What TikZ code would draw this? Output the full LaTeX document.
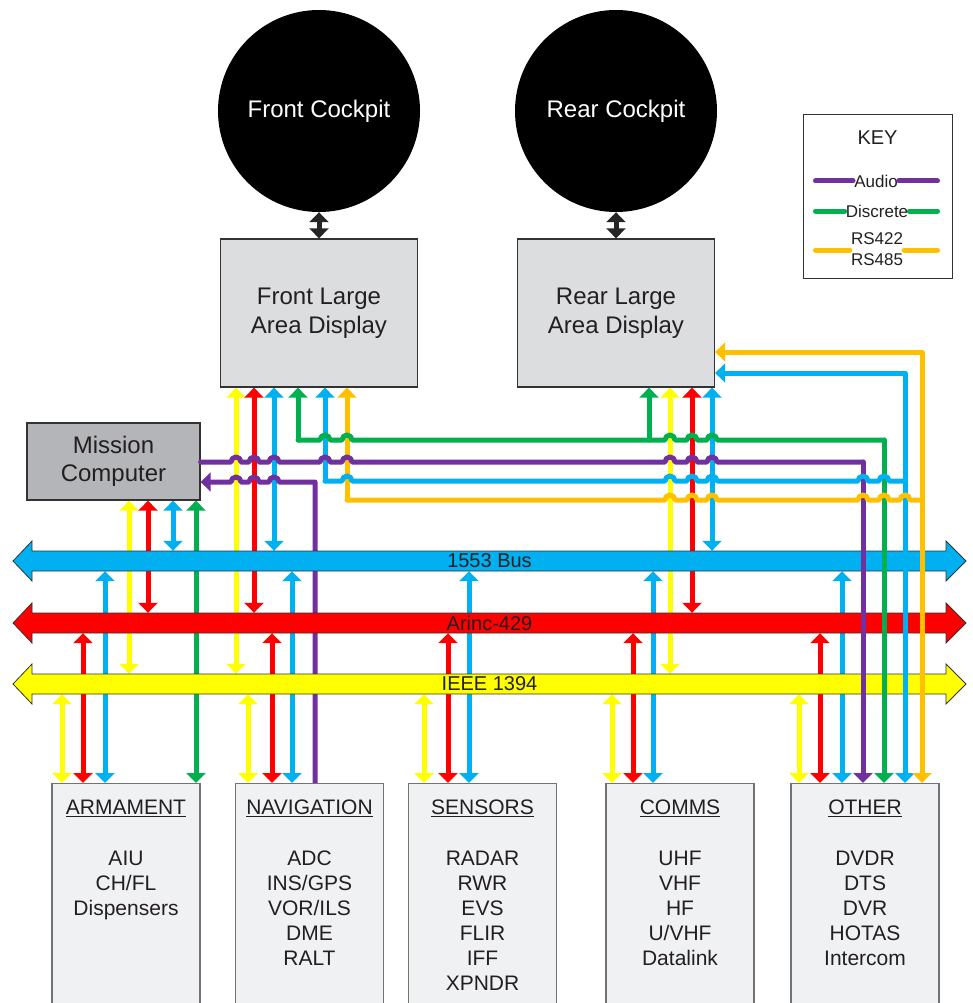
\documentclass[tikz,border=0pt]{standalone}
\usepackage{fontspec}
\setmainfont{Liberation Sans}
\usetikzlibrary{positioning, arrows.meta, calc}
\pgfdeclarelayer{under}
\pgfsetlayers{under,main}
\definecolor{busblue}{RGB}{0,176,240}
\definecolor{busred}{RGB}{255,0,0}
\definecolor{busyellow}{RGB}{255,255,0}
\definecolor{discretegreen}{RGB}{0,176,80}
\definecolor{audiopurple}{RGB}{112,48,160}
\definecolor{rsorange}{RGB}{255,192,0}
\definecolor{displaygrey}{RGB}{220,221,223}
\definecolor{mcgrey}{RGB}{180,181,184}
\definecolor{unitgrey}{RGB}{240,241,243}
\definecolor{inkgrey}{RGB}{35,31,32}

\begin{document}
\begin{tikzpicture}[x=1pt, y=1pt, text=inkgrey,
    >={Triangle[width=19pt, length=10pt]},
    wire/.style={line width=5pt},
    route/.style={line width=5pt, line cap=round, line join=round},
    cockpit/.style={circle, fill=black, minimum size=202pt, text=white, font=\fontsize{24}{29}\selectfont},
    screen/.style={draw=black!80, line width=1.3pt, fill=displaygrey, minimum width=197pt, minimum height=148pt, align=center, font=\fontsize{24}{29}\selectfont},
    unit/.style={draw=black!55, line width=1.3pt, fill=unitgrey, minimum width=148pt, minimum height=240pt, anchor=north},
    unittext/.style={align=center, anchor=north, inner sep=0pt, font=\fontsize{21}{25}\selectfont},
    busbody/.style={draw=black!80, line width=0.8pt},
    busname/.style={minimum width=914pt, minimum height=20pt, inner sep=0pt, font=\fontsize{20}{24}\selectfont},
    keyitem/.style={inner sep=1pt, align=center, font=\fontsize{17}{21}\selectfont},
    keyline/.style={line width=5pt, line cap=round}]

    \useasboundingbox (0,0) rectangle (973,-1003);

    % cockpits et ecrans
    \node[cockpit] (fcp) at (319,-111) {Front Cockpit};
    \node[cockpit] (rcp) at (616,-111) {Rear Cockpit};
    \node[screen] (flad) at (319,-313) {Front Large\\Area Display};
    \node[screen] (rlad) at (616,-313) {Rear Large\\Area Display};
    \draw[wire, black!85, <->] (fcp.south) -- (fcp.south |- flad.north);
    \draw[wire, black!85, <->] (rcp.south) -- (rcp.south |- rlad.north);

    \node[draw=black!80, line width=1.3pt, fill=mcgrey, minimum width=173pt, minimum height=77pt, align=center, font=\fontsize{24}{28}\selectfont] (mc) at (113.5,-461.5) {Mission\\Computer};

    % legende
    \node[draw=black!80, line width=1pt, minimum width=149pt, minimum height=163pt] (key) at (877.5,-196.5) {};
    \node[font=\fontsize{20}{24}\selectfont] (keyhead) at (877.5,-138) {KEY};
    \node[keyitem] (kaudio) at (876,-181) {Audio};
    \node[keyitem] (kdisc) at (877,-211) {Discrete};
    \node[keyitem] (krs) at (877,-249) {RS422\\RS485};
    \draw[keyline, audiopurple] ([xshift=13pt]key.west |- kaudio) -- (kaudio.west);
    \draw[keyline, audiopurple] (kaudio.east) -- ([xshift=-15pt]key.east |- kaudio);
    \draw[keyline, discretegreen] ([xshift=13pt]key.west |- kdisc) -- (kdisc.west);
    \draw[keyline, discretegreen] (kdisc.east) -- ([xshift=-15pt]key.east |- kdisc);
    \draw[keyline, rsorange] ([shift={(13pt,-1pt)}]key.west |- krs.west) -- ([yshift=-1pt]krs.west);
    \draw[keyline, rsorange] ([yshift=-1pt]krs.east) -- ([shift={(-15pt,-1pt)}]key.east |- krs.east);

    % bus
    \foreach \y/\c/\n/\t in {-561/busblue/b1553/1553 Bus, -623/busred/b429/Arinc-429, -684/busyellow/b1394/IEEE 1394} {
      \draw[busbody, fill=\c] (13,\y) -- ++(19,20) -- ++(0,-10) -- ++(914,0) -- ++(0,10) -- ++(20,-20)
        -- ++(-20,-20) -- ++(0,10) -- ++(-914,0) -- ++(0,-10) -- cycle;
      \node[busname] (\n) at (489.5,\y) {\t};
    }

    % sous-systemes
    \foreach \x/\n/\t/\items in {126/arm/ARMAMENT/{AIU\\CH/FL\\Dispensers},
        309.5/nav/NAVIGATION/{ADC\\INS/GPS\\VOR/ILS\\DME\\RALT},
        482.5/sen/SENSORS/{RADAR\\RWR\\EVS\\FLIR\\IFF\\XPNDR},
        680/com/COMMS/{UHF\\VHF\\HF\\U/VHF\\Datalink},
        865/oth/OTHER/{DVDR\\DTS\\DVR\\HOTAS\\Intercom}} {
      \node[unit] (\n) at (\x,-783) {};
      \node[unittext] (\n-t) at ([yshift=-17pt]\n.north) {\underline{\t}\\[26pt]\items};
    }

    % liaisons sous les bus
    \begin{pgfonlayer}{under}
      \foreach \x/\c/\a/\b in {236/busyellow/flad/b1394, 254/busred/flad/b429, 274/busblue/flad/b1553,
          670/busyellow/rlad/b1394, 692/busred/rlad/b429, 712/busblue/rlad/b1553,
          129/busyellow/mc/b1394, 148/busred/mc/b429, 173/busblue/mc/b1553}
        \draw[wire, \c, <->] (\x,0 |- \a.south) -- (\x,0 |- \b.north);
      \foreach \x/\c/\a/\b in {62/busyellow/b1394/arm, 83/busred/b429/arm, 105/busblue/b1553/arm,
          248/busyellow/b1394/nav, 272/busred/b429/nav, 292/busblue/b1553/nav,
          424/busyellow/b1394/sen, 448/busred/b429/sen, 469/busblue/b1553/sen,
          612/busyellow/b1394/com, 633/busred/b429/com, 653/busblue/b1553/com,
          799/busyellow/b1394/oth, 820/busred/b429/oth, 842/busblue/b1553/oth}
        \draw[wire, \c, <->] (\x,0 |- \a.south) -- (\x,0 |- \b.north);
      \draw[wire, discretegreen, <->] (196,0 |- mc.south) -- (196,0 |- arm.north);
      \draw[route, audiopurple, <-] (mc.east |- 0,-482)
        \foreach \h in {236,254,274} {-- (\h-5,-482) arc[start angle=180, end angle=0, radius=5pt]}
        -- (315,-482) -- (315,0 |- nav.north);
    \end{pgfonlayer}

    % liaisons vers OTHER
    \draw[route, discretegreen, <-] (298,0 |- flad.south) -- (298,-440);
    \draw[route, discretegreen, <-] (649,0 |- rlad.south) -- (649,-440);
    \draw[route, discretegreen, ->] (884,-440) -- (884,0 |- oth.north);
    \draw[route, busblue, <-] (325,0 |- flad.south) -- (325,-481);
    \draw[route, busblue, <->] (rlad.east |- 0,-373) -- (905,-373) -- (905,0 |- oth.north);
    \draw[route, rsorange, <-] (347,0 |- flad.south) -- (347,-500);
    \draw[route, rsorange, <->] (rlad.east |- 0,-352) -- (922,-352) -- (922,0 |- oth.north);
    \draw[route, audiopurple, ->] (863,-462) -- (863,0 |- oth.north);

    \draw[route, discretegreen] (298,-440)
      \foreach \h in {325,347,670,692,712} {-- (\h-5,-440) arc[start angle=180, end angle=0, radius=5pt]}
      -- (884,-440);
    \draw[route, audiopurple] (mc.east |- 0,-462)
      \foreach \h in {236,254,274,325,347,670,692,712} {-- (\h-5,-462) arc[start angle=180, end angle=0, radius=5pt]}
      -- (863,-462);
    \draw[route, busblue] (325,-481)
      \foreach \h in {347,670,692,712,863,884} {-- (\h-5,-481) arc[start angle=180, end angle=0, radius=5pt]}
      -- (905,-481);
    \draw[route, rsorange] (347,-500)
      \foreach \h in {670,692,712,863,884,905} {-- (\h-5,-500) arc[start angle=180, end angle=0, radius=5pt]}
      -- (922,-500);
\end{tikzpicture}
\end{document}
